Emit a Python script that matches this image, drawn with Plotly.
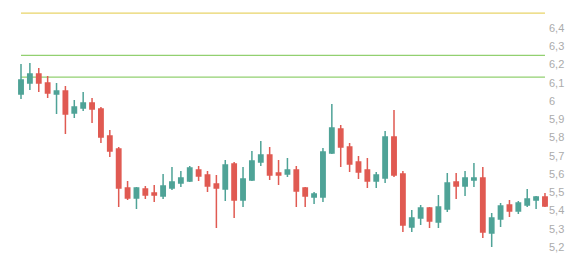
import plotly.graph_objects as go

idx = list(range(60))
opens = [6.038, 6.099, 6.148, 6.099, 6.038, 6.055, 5.934, 5.962, 5.989, 5.956,
         5.808, 5.737, 5.523, 5.468, 5.518, 5.496, 5.479, 5.523, 5.551, 5.562,
         5.622, 5.595, 5.545, 5.518, 5.655, 5.458, 5.567, 5.666, 5.704, 5.605,
         5.600, 5.622, 5.523, 5.474, 5.474, 5.715, 5.847, 5.748, 5.666, 5.622,
         5.562, 5.578, 5.803, 5.600, 5.310, 5.359, 5.414, 5.337, 5.408, 5.556,
         5.534, 5.567, 5.578, 5.277, 5.353, 5.430, 5.397, 5.430, 5.458, 5.474]
highs = [6.203, 6.208, 6.181, 6.137, 6.099, 6.082, 6.005, 6.049, 6.016, 5.967,
         5.841, 5.748, 5.562, 5.529, 5.534, 5.540, 5.600, 5.638, 5.616, 5.644,
         5.644, 5.616, 5.595, 5.677, 5.666, 5.638, 5.726, 5.781, 5.748, 5.677,
         5.688, 5.644, 5.529, 5.501, 5.742, 5.984, 5.868, 5.770, 5.699, 5.688,
         5.611, 5.836, 5.951, 5.616, 5.403, 5.430, 5.419, 5.485, 5.605, 5.605,
         5.616, 5.660, 5.638, 5.386, 5.441, 5.458, 5.452, 5.518, 5.479, 5.496]
lows = [6.011, 6.060, 6.049, 6.016, 5.929, 5.819, 5.907, 5.945, 5.879, 5.770,
        5.693, 5.419, 5.458, 5.408, 5.463, 5.447, 5.463, 5.512, 5.529, 5.556,
        5.562, 5.501, 5.304, 5.452, 5.359, 5.419, 5.562, 5.644, 5.567, 5.540,
        5.584, 5.419, 5.419, 5.436, 5.447, 5.710, 5.638, 5.611, 5.573, 5.523,
        5.523, 5.551, 5.584, 5.282, 5.282, 5.321, 5.304, 5.304, 5.392, 5.463,
        5.479, 5.529, 5.249, 5.200, 5.310, 5.364, 5.381, 5.419, 5.408, 5.419]
closes = [6.115, 6.148, 6.099, 6.044, 6.055, 5.929, 5.967, 5.989, 5.956, 5.803,
          5.726, 5.523, 5.468, 5.523, 5.485, 5.485, 5.534, 5.556, 5.578, 5.633,
          5.589, 5.534, 5.523, 5.649, 5.458, 5.573, 5.671, 5.704, 5.595, 5.595,
          5.622, 5.507, 5.479, 5.490, 5.721, 5.852, 5.748, 5.655, 5.611, 5.562,
          5.595, 5.803, 5.595, 5.321, 5.359, 5.414, 5.342, 5.419, 5.551, 5.534,
          5.578, 5.578, 5.282, 5.359, 5.425, 5.397, 5.441, 5.463, 5.474, 5.425]

levels = [6.482, 6.250, 6.131]
level_colors = ["#e8d468", "#92d070", "#92d070"]

tick_vals = [5.2, 5.3, 5.4, 5.5, 5.6, 5.7, 5.8, 5.9, 6.0, 6.1, 6.2, 6.3, 6.4]

UP = "#4fa397"
DOWN = "#e05a52"

fig = go.Figure()
fig.add_trace(go.Candlestick(
    x=idx, open=opens, high=highs, low=lows, close=closes,
    increasing=dict(line=dict(color=UP, width=1.5), fillcolor=UP),
    decreasing=dict(line=dict(color=DOWN, width=1.5), fillcolor=DOWN),
    whiskerwidth=0,
    showlegend=False, hoverinfo="skip",
))

for lv, col in zip(levels, level_colors):
    fig.add_shape(type="line", xref="x", yref="y", x0=idx[0], x1=idx[-1],
                  y0=lv, y1=lv, line=dict(color=col, width=1.2), layer="below")

fig.update_layout(
    width=584, height=258,
    margin=dict(l=0, r=36, t=0, b=0),
    paper_bgcolor="white", plot_bgcolor="white",
    separators=", ",
    font=dict(family="Liberation Sans, Arial, sans-serif", size=11, color="#ababab"),
    xaxis=dict(visible=False, range=[-2.365, 59.34], rangeslider=dict(visible=False)),
    yaxis=dict(side="right", range=[5.1397, 6.5534], tickvals=tick_vals,
               showgrid=False, zeroline=False, showline=False, ticks="",
               tickfont=dict(size=11, color="#ababab")),
    showlegend=False,
)

fig.write_html("out.html")
